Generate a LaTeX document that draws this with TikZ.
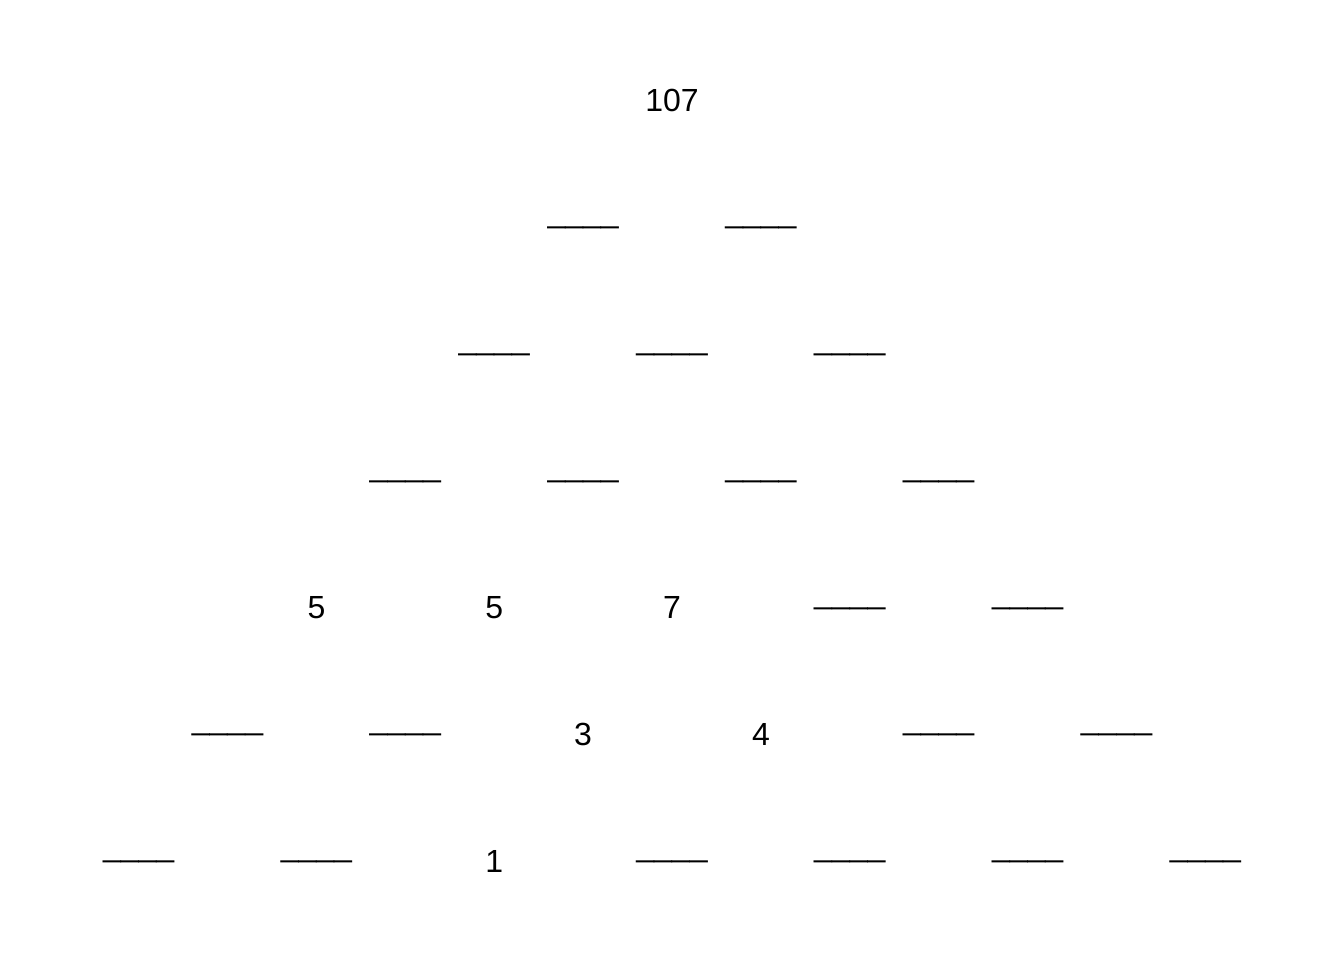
\documentclass[tikz,border=0pt]{standalone}
\usepackage{fontspec}
\setmainfont{Liberation Sans}
\begin{document}
\begin{tikzpicture}[x=1pt,y=-1pt,
  cell/.style={inner sep=0pt,outer sep=0pt,font=\fontsize{32}{38}\selectfont},
  blank/.style={cell,yshift=1.5pt}]
\useasboundingbox[fill=white] (0,0) rectangle (1344,960);
\def\rA{100.5}\def\rB{227.3}\def\rC{354.1}\def\rD{480.9}\def\rE{607.7}\def\rF{734.5}\def\rG{861.3}
% row 1
\node[cell] (a1) at (672,\rA) {107};
% row 2
\node[blank] (b1) at (583.1,\rB) {\_\_\_\_};
\node[blank] (b2) at (760.9,\rB) {\_\_\_\_};
% row 3
\node[blank] (c1) at (494.2,\rC) {\_\_\_\_};
\node[blank] (c2) at (672,\rC) {\_\_\_\_};
\node[blank] (c3) at (849.8,\rC) {\_\_\_\_};
% row 4
\node[blank] (d1) at (405.3,\rD) {\_\_\_\_};
\node[blank] (d2) at (583.1,\rD) {\_\_\_\_};
\node[blank] (d3) at (760.9,\rD) {\_\_\_\_};
\node[blank] (d4) at (938.7,\rD) {\_\_\_\_};
% row 5
\node[cell] (e1) at (316.4,\rE) {5};
\node[cell] (e2) at (494.2,\rE) {5};
\node[cell] (e3) at (672,\rE) {7};
\node[blank] (e4) at (849.8,\rE) {\_\_\_\_};
\node[blank] (e5) at (1027.6,\rE) {\_\_\_\_};
% row 6
\node[blank] (f1) at (227.5,\rF) {\_\_\_\_};
\node[blank] (f2) at (405.3,\rF) {\_\_\_\_};
\node[cell] (f3) at (583.1,\rF) {3};
\node[cell] (f4) at (760.9,\rF) {4};
\node[blank] (f5) at (938.7,\rF) {\_\_\_\_};
\node[blank] (f6) at (1116.5,\rF) {\_\_\_\_};
% row 7
\node[blank] (g1) at (138.6,\rG) {\_\_\_\_};
\node[blank] (g2) at (316.4,\rG) {\_\_\_\_};
\node[cell] (g3) at (494.2,\rG) {1};
\node[blank] (g4) at (672,\rG) {\_\_\_\_};
\node[blank] (g5) at (849.8,\rG) {\_\_\_\_};
\node[blank] (g6) at (1027.6,\rG) {\_\_\_\_};
\node[blank] (g7) at (1205.4,\rG) {\_\_\_\_};
\end{tikzpicture}
\end{document}
